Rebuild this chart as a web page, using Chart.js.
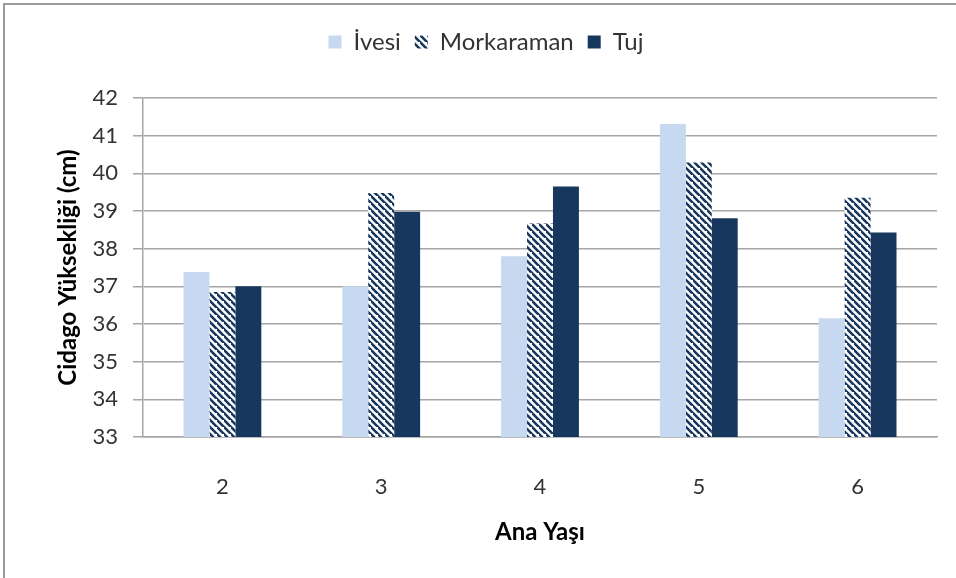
<!DOCTYPE html>
<html>
<head>
<meta charset="utf-8">
<script src="https://cdn.jsdelivr.net/npm/chart.js@4"></script>
<style>
  html, body { margin: 0; padding: 0; background: #fff; }
  #wrap { width: 956px; height: 578px; }
</style>
</head>
<body>
<div id="wrap"><canvas id="myChart" width="956" height="578"></canvas></div>
<script>
// ana yaşına göre cidago yüksekliği (cm)
let anaYasi = ["2", "3", "4", "5", "6"];
let ivesi = [37.38, 37.0, 37.8, 41.31, 36.15];
let morkaraman = [36.85, 39.48, 38.67, 40.29, 39.35];
let tuj = [37.0, 38.98, 39.65, 38.81, 38.43];
let yTicks = [33, 34, 35, 36, 37, 38, 39, 40, 41, 42];

let gridColor = "#a6a6a6";
let fontName = "Lato, 'Open Sans', sans-serif";

// diagonal hatch for Morkaraman
function hatchPattern() {
    let size = 7;
    let c = document.createElement("canvas");
    c.width = size;
    c.height = size;
    let g = c.getContext("2d");
    g.fillStyle = "#ffffff";
    g.fillRect(0, 0, size, size);
    g.strokeStyle = "#17375e";
    g.lineWidth = 2.6;
    g.beginPath();
    g.moveTo(-1, -1);
    g.lineTo(size + 1, size + 1);
    g.moveTo(-size - 1, -1);
    g.lineTo(1, size + 1);
    g.moveTo(size - 1, -size - 1);
    g.lineTo(2 * size + 1, size + 1);
    g.stroke();
    return document.createElement("canvas").getContext("2d").createPattern(c, "repeat");
}

// white background with the frame lines on top and left
const framePlugin = {
    id: "frame",
    beforeDraw(chart) {
        let ctx = chart.ctx;
        ctx.save();
        ctx.fillStyle = "#ffffff";
        ctx.fillRect(0, 0, chart.width, chart.height);
        ctx.strokeStyle = "#9a9a9a";
        ctx.lineWidth = 2;
        ctx.beginPath();
        ctx.moveTo(4, chart.height);
        ctx.lineTo(4, 4);
        ctx.lineTo(chart.width, 4);
        ctx.stroke();
        ctx.restore();
    }
};

// extra space under the legend
const legendGap = {
    id: "legendGap",
    beforeInit(chart) {
        let fit = chart.legend.fit;
        chart.legend.fit = function () {
            fit.bind(chart.legend)();
            this.height += 34;
        };
    }
};

let ctx = document.getElementById("myChart").getContext("2d");
let chartOne = new Chart(ctx, {
    type: "bar",
    data: {
        labels: anaYasi,
        datasets: [
            { label: "İvesi", data: ivesi, backgroundColor: "#c6d9f1" },
            { label: "Morkaraman", data: morkaraman, backgroundColor: hatchPattern() },
            { label: "Tuj", data: tuj, backgroundColor: "#17375e" }
        ]
    },
    options: {
        responsive: false,
        animation: false,
        layout: { padding: { left: 35, right: 19, top: 16, bottom: 0 } },
        datasets: {
            bar: { categoryPercentage: 0.49, barPercentage: 1.0 }
        },
        plugins: {
            legend: {
                position: "top",
                labels: {
                    boxWidth: 13,
                    boxHeight: 13,
                    padding: 14,
                    color: "#333333",
                    font: { family: fontName, size: 24 }
                }
            },
            tooltip: { enabled: false }
        },
        scales: {
            x: {
                grid: { display: false },
                border: { display: true, color: gridColor, width: 1.5 },
                ticks: { color: "#333333", padding: 29, font: { family: fontName, size: 22 } },
                title: {
                    display: true,
                    text: "Ana Yaşı",
                    color: "#000000",
                    padding: { bottom: 31 },
                    font: { family: fontName, size: 24, weight: "bold" }
                },
                afterFit(scale) { scale.height = 141; }
            },
            y: {
                min: 33,
                max: 42,
                afterBuildTicks(scale) {
                    scale.ticks = yTicks.map(v => ({ value: v }));
                },
                grid: { color: gridColor, lineWidth: 1.5, tickLength: 10 },
                border: { display: true, color: gridColor, width: 1.5 },
                ticks: { color: "#333333", padding: 15, font: { family: fontName, size: 22 } },
                title: {
                    display: true,
                    text: "Cidago Yüksekliği (cm)",
                    color: "#000000",
                    padding: { top: 18.7 },
                    font: { family: fontName, size: 24, weight: "bold" }
                },
                afterFit(scale) { scale.width = 108; }
            }
        }
    },
    plugins: [framePlugin, legendGap]
});
</script>
</body>
</html>
